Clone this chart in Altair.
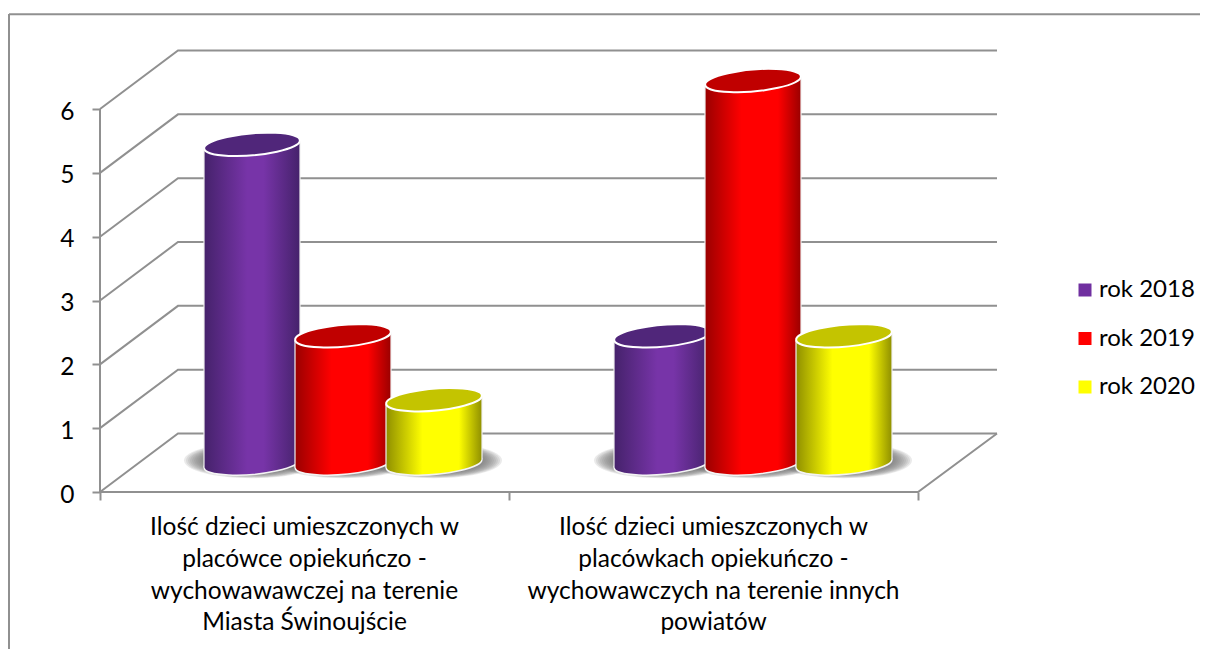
import altair as alt
import pandas as pd

years = ["rok 2018", "rok 2019", "rok 2020"]
categories = [
    "Ilość dzieci umieszczonych w\nplacówce opiekuńczo -\nwychowawawczej na terenie\nMiasta Świnoujście",
    "Ilość dzieci umieszczonych w\nplacówkach opiekuńczo -\nwychowawczych na terenie innych\npowiatów",
]
values_2018 = [5, 2]
values_2019 = [2, 6]
values_2020 = [1, 2]
series_values = [values_2018, values_2019, values_2020]
ticks = [0, 1, 2, 3, 4, 5, 6]

legend_colors = ["#7030a0", "#ff0000", "#ffff00"]
mid_colors = ["#7734a8", "#ff0000", "#ffff00"]
top_colors = ["#50267a", "#c00000", "#c4c400"]
edge_colors = ["#45226b", "#9a0000", "#8f8f00"]
bright_from = [0.45, 0.38, 0.38]
bright_to = [0.62, 0.76, 0.76]
GRAY = "#909090"
FONT = "Lato"
W, H = 1192, 641
PX_X, PX_Y = 409.0, 63.83         # pixels per group / per unit
X0, Y0 = 92.0, 484.0              # chart position of the origin
DEPTH_X, DEPTH_Y = 78 / PX_X, 58.5 / PX_Y
BASE = 28.5 / PX_Y                # cylinders stand mid-depth
TILT = 4 / PX_Y
HALF = 48 / PX_X
FIRST = 152 / PX_X
STEP = 91 / PX_X

xs = alt.Scale(domain=[-X0 / PX_X, (W - X0) / PX_X], range=[0, W], nice=False, zero=False)
ys = alt.Scale(domain=[(Y0 - H) / PX_Y, Y0 / PX_Y], range=[H, 0], nice=False, zero=False)
x_axis = alt.Axis(values=[0, 1, 2], labels=False, domain=False, grid=False,
                  tickColor=GRAY, tickWidth=2, tickSize=8, offset=Y0 - H, title=None)
y_axis = alt.Axis(values=ticks, format="d", domain=False, grid=False,
                  tickColor=GRAY, tickWidth=2, tickSize=8, offset=-X0,
                  labelFont=FONT, labelFontSize=24.5, labelColor="#000000",
                  labelPadding=18, labelOffset=3, labelBaseline="middle", title=None)
X = lambda f="x": alt.X(f"{f}:Q", scale=xs, axis=x_axis, title=None)
Y = lambda f="y": alt.Y(f"{f}:Q", scale=ys, axis=y_axis, title=None)

ELLIPSE = ("M-0.996,0.087 A1,0.223,-5,1,1,0.996,-0.087 "
           "A1,0.223,-5,1,1,-0.996,0.087 Z")
SHADOW = "M-1,0 A1,0.26,0,1,1,1,0 A1,0.26,0,1,1,-1,0 Z"
ELL_SIZE = 9216

def grad(dark, mid, a, b):
    return alt.LinearGradient(
        gradient="linear", x1=0, x2=1, y1=0, y2=0,
        stops=[alt.GradientStop(offset=0, color=dark),
               alt.GradientStop(offset=a, color=mid),
               alt.GradientStop(offset=b, color=mid),
               alt.GradientStop(offset=1, color=dark)])

layers = []

# Walls: side diagonal + back gridline per tick
wall = []
for t in ticks:
    wall += [dict(t=t, x=0, y=t),
             dict(t=t, x=DEPTH_X, y=t + DEPTH_Y),
             dict(t=t, x=2 + 79 / PX_X, y=t + DEPTH_Y)]
layers.append(alt.Chart(pd.DataFrame(wall)).mark_line(color=GRAY, strokeWidth=2).encode(
    x=X(), y=Y(), detail="t:N"))

# Floor: front edge and right diagonal, plus the vertical axis line
floor = [dict(x=0, y=0), dict(x=2, y=0), dict(x=2 + 79 / PX_X, y=DEPTH_Y)]
layers.append(alt.Chart(pd.DataFrame(floor)).mark_line(color=GRAY, strokeWidth=2).encode(x=X(), y=Y()))
layers.append(alt.Chart(pd.DataFrame([dict(x=0, y=0, y2=6)])).mark_rule(color=GRAY, strokeWidth=2)
              .encode(x=X(), y=Y(), y2="y2:Q"))

# Centres of the cylinders
bars = []
for s, (yr, vals) in enumerate(zip(years, series_values)):
    for g, v in enumerate(vals):
        bars.append(dict(year=yr, s=s, g=g, v=v, cx=g + FIRST + s * STEP + (g * 1 / PX_X)))
bars_df = pd.DataFrame(bars)

# Soft floor shadows: concentric translucent ellipses
rings = []
for b in bars:
    for k, r in enumerate([1.0, 0.97, 0.94, 0.91, 0.88, 0.85, 0.82, 0.79, 0.76, 0.73]):
        rings.append(dict(x=b["cx"], y=BASE + 3 / PX_Y, size=(136 * r) ** 2, k=k))
layers.append(alt.Chart(pd.DataFrame(rings)).mark_point(
    shape=SHADOW, filled=True, fill="#707070", opacity=0.15, strokeWidth=0
).encode(x=X(), y=Y(), size=alt.Size("size:Q", scale=None, legend=None)))

# Cylinders
for s in range(3):
    sub = bars_df[bars_df.s == s]
    fill = grad(edge_colors[s], mid_colors[s], bright_from[s], bright_to[s])
    # bottom cap
    layers.append(alt.Chart(sub.assign(y=BASE)).mark_point(
        shape=ELLIPSE, filled=True, fill=fill, stroke="#f4f4f4", strokeWidth=1.5,
        opacity=1, size=ELL_SIZE).encode(x=X("cx"), y=Y()))
    # body
    body = []
    for _, b in sub.iterrows():
        for side in (-1, 1):
            body.append(dict(id=b.g, x=b.cx + side * HALF,
                             y=b.v + BASE + side * TILT, y2=BASE + side * TILT))
    body_df = pd.DataFrame(body)
    layers.append(alt.Chart(body_df).mark_area(fill=fill, orient="vertical", opacity=1).encode(
        x=X(), y=Y(), y2="y2:Q", detail="id:N"))
    # side edges
    layers.append(alt.Chart(body_df).mark_rule(color="#f0f0f0", strokeWidth=1.2).encode(
        x=X(), y=Y(), y2="y2:Q"))
    # top cap
    layers.append(alt.Chart(sub.assign(y=sub.v + BASE)).mark_point(
        shape=ELLIPSE, filled=True, fill=top_colors[s], stroke="#ffffff", strokeWidth=2,
        opacity=1, size=ELL_SIZE).encode(x=X("cx"), y=Y()))

# Category labels
layers.append(alt.Chart(pd.DataFrame([dict(x=i + 0.5, y=-24 / PX_Y, label=c) for i, c in enumerate(categories)]))
              .mark_text(font=FONT, fontSize=24.5, color="#000000", align="center", baseline="top",
                         lineBreak="\n", lineHeight=31.8)
              .encode(x=X(), y=Y(), text="label:N"))

# Frame (top and left only)
layers.append(alt.Chart(pd.DataFrame([dict(a=1)])).mark_rule(color=GRAY, strokeWidth=2).encode(
    x=alt.value(1), x2=alt.value(W), y=alt.value(6.3)))
layers.append(alt.Chart(pd.DataFrame([dict(a=1)])).mark_rule(color=GRAY, strokeWidth=2).encode(
    x=alt.value(1), y=alt.value(6), y2=alt.value(H)))

# Legend
layers.append(alt.Chart(pd.DataFrame(dict(year=years))).mark_square(size=0).encode(
    color=alt.Color("year:N", scale=alt.Scale(domain=years, range=legend_colors),
                    legend=alt.Legend(title=None, orient="none", legendX=1065, legendY=270,
                                      symbolType="square", symbolSize=169, symbolStrokeWidth=0,
                                      symbolOpacity=1,
                                      labelFont=FONT, labelFontSize=24, labelColor="#000000",
                                      labelOffset=2, rowPadding=24.5))))

chart = alt.layer(*layers).properties(
    width=W, height=H, padding=0, autosize=alt.AutoSizeParams(type="none"),
    background="#ffffff"
).configure_view(stroke=None)

chart.save("out.html", embed_options={"renderer": "svg", "actions": False})
